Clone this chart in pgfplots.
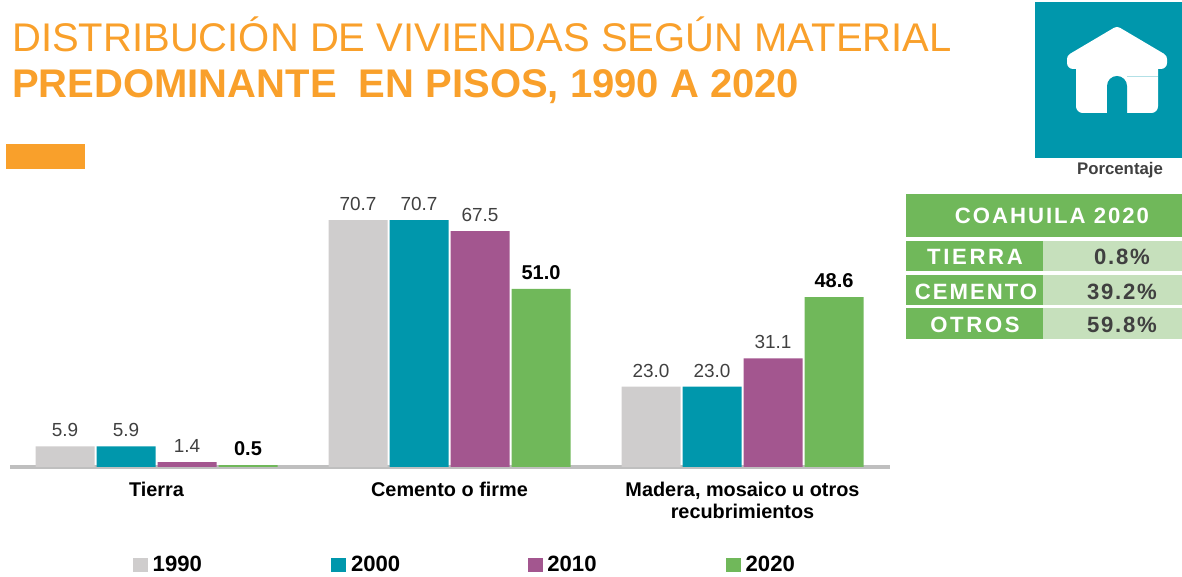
\documentclass[border=0pt]{standalone}
\usepackage{pgfplots}
\pgfplotsset{compat=1.18}
\usepackage{fontspec}
\setmainfont{Liberation Sans}
\definecolor{cGray}{HTML}{CFCDCD}
\definecolor{cTeal}{HTML}{0097AC}
\definecolor{cPurple}{HTML}{A3568F}
\definecolor{cGreen}{HTML}{70B85A}
\definecolor{cOrange}{HTML}{F9A02B}
\definecolor{cLight}{HTML}{C6E0BC}
\definecolor{cTxt}{HTML}{404040}
\pgfplotsset{
 swatch/.style={legend image code/.code={\fill[#1] (0pt,-5.25pt) rectangle (11.25pt,5.25pt);}}
}
\newcommand{\tabW}[1]{\bfseries\fontsize{16.6pt}{18pt}\selectfont\addfontfeature{LetterSpace=#1}}
\begin{document}
\begin{tikzpicture}
\path[use as bounding box] (0,0) rectangle (886.5pt,432.75pt);
\begin{axis}[
 at={(7.5pt,82.5pt)}, anchor=south west,
 scale only axis, width=660pt, height=207.75pt,
 xmin=-0.5000, xmax=2.5034, ymin=0, ymax=79.3,
 ybar=1.5pt, bar width=44.25pt,
 axis x line=bottom, axis y line=none,
 axis line style={draw=black!25, line width=3pt, -},
 xtick={0,1,2}, major tick length=0pt,
 xticklabels={Tierra,Cemento o firme,{Madera, mosaico u otros\\recubrimientos}},
 xticklabel style={font=\bfseries\fontsize{14.9pt}{16.5pt}\selectfont, text=black, align=center, yshift=-8pt, anchor=north},
 nodes near coords,
 /pgf/number format/fixed, /pgf/number format/fixed zerofill, /pgf/number format/precision=1, /pgf/number format/assume math mode=true,
 nodes near coords style={font=\fontsize{14.2pt}{15pt}\selectfont, text=cTxt, yshift=3.5pt},
 legend columns=4,
 legend style={at={(0.1398,-0.354)}, anchor=west, draw=none, fill=none, inner sep=0pt, outer sep=0pt,
   font=\bfseries\fontsize{16.6pt}{18pt}\selectfont, /tikz/every even column/.style={column sep=0pt}},
 legend cell align=left,
]
\addplot[fill=cGray, draw=none, swatch=cGray] coordinates {(0,5.9) (1,70.7) (2,23.0)};
\addlegendentry{\makebox[133.5pt][l]{\hspace{1.5pt}1990}}
\addplot[fill=cTeal, draw=none, swatch=cTeal] coordinates {(0,5.9) (1,70.7) (2,23.0)};
\addlegendentry{\makebox[132pt][l]{\hspace{1.5pt}2000}}
\addplot[fill=cPurple, draw=none, swatch=cPurple] coordinates {(0,1.4) (1,67.5) (2,31.1)};
\addlegendentry{\makebox[133.5pt][l]{\hspace{1.5pt}2010}}
\addplot[fill=cGreen, draw=none, swatch=cGreen, every node near coord/.append style={font=\bfseries\fontsize{15pt}{15pt}\selectfont, text=black}] coordinates {(0,0.5) (1,51.0) (2,48.6)};
\addlegendentry{\hspace{1.5pt}2020}
\end{axis}
\begin{scope}[x=0.75pt,y=-0.75pt,yshift=432.75pt]
 % title
 \node[anchor=west,inner sep=0pt,text=cOrange,font=\fontsize{30pt}{32pt}\selectfont] at (12,34) {DISTRIBUCIÓN DE VIVIENDAS SEGÚN MATERIAL};
 \node[anchor=west,inner sep=0pt,text=cOrange,font=\bfseries\fontsize{30pt}{32pt}\selectfont] at (12,87) {PREDOMINANTE\ \ EN PISOS, 1990 A 2020};
 \fill[cOrange] (6,144) rectangle (85,169);
 % icon
 \fill[cTeal] (1035,2) rectangle (1182,158);
 \filldraw[white,line width=9pt,line join=round] (1117,33) -- (1161,59) -- (1161,63) -- (1073,63) -- (1073,59) -- cycle;
 \fill[white,rounded corners=5pt] (1076,60) rectangle (1158,113);
 \fill[cTeal] (1107,113) -- (1107,86) arc[start angle=180,end angle=360,radius=10] -- (1127,113) -- cycle;
 \draw[cTeal!30,line width=0.4pt] (1127,76) -- (1158,76);
 \node[text=cTxt,font=\bfseries\fontsize{12.6pt}{14pt}\selectfont,inner sep=0pt] at (1120,170) {Porcentaje};
 % table
 \fill[cGreen] (906,194) rectangle (1182,237);
 \foreach \a/\b in {241/271,275/305,308/339}{
  \fill[cGreen] (906,\a) rectangle (1043,\b);
  \fill[cLight] (1043,\a) rectangle (1182,\b);
 }
 \node[text=white,font=\tabW{9},inner sep=0pt] at (1052,216) {COAHUILA 2020};
 \node[text=white,font=\tabW{12},inner sep=0pt] at (975,257) {TIERRA};
 \node[text=white,font=\tabW{9},inner sep=0pt] at (976,292) {CEMENTO};
 \node[text=white,font=\tabW{12},inner sep=0pt] at (975,325) {OTROS};
 \node[text=cTxt,font=\tabW{8},inner sep=0pt] at (1122,257) {0.8\%};
 \node[text=cTxt,font=\tabW{8},inner sep=0pt] at (1122,292) {39.2\%};
 \node[text=cTxt,font=\tabW{8},inner sep=0pt] at (1122,325) {59.8\%};
\end{scope}
\end{tikzpicture}
\end{document}
